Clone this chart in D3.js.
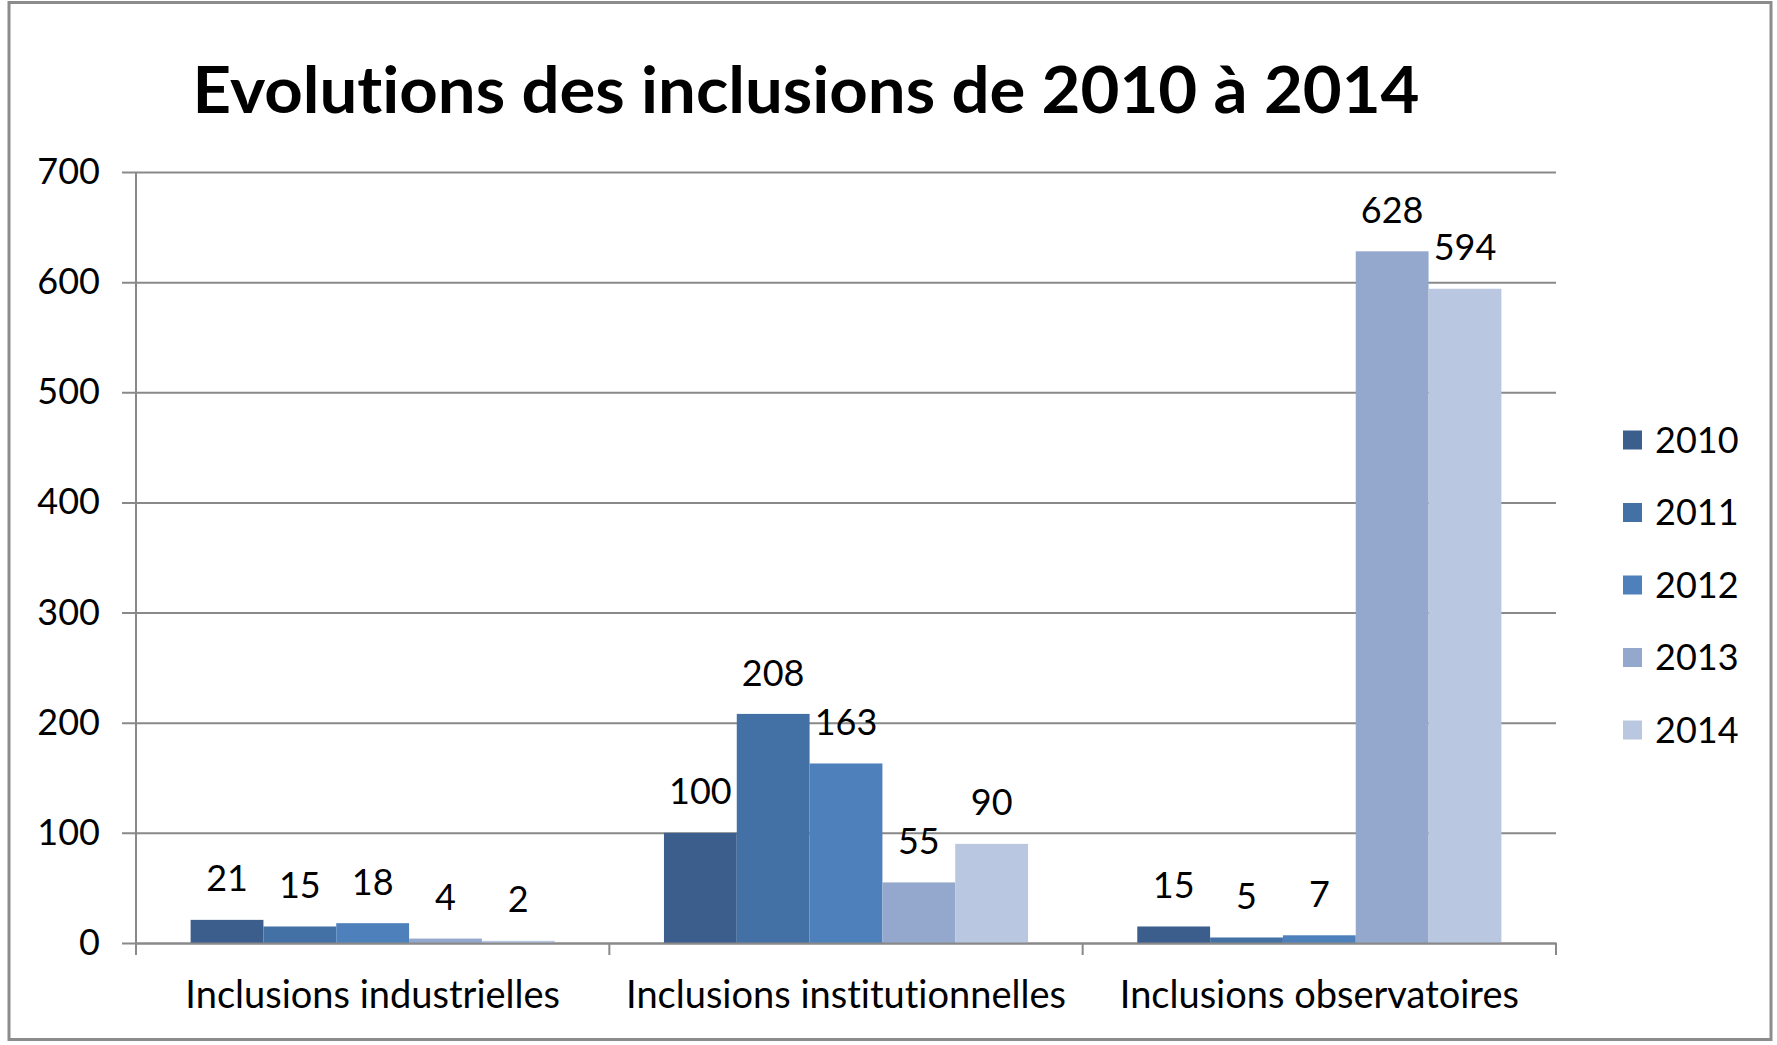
<!DOCTYPE html>
<html><head><meta charset="utf-8">
<script src="https://cdn.jsdelivr.net/npm/d3@7"></script>
<style>
body{margin:0;background:#fff;}
svg{display:block;}
text{font-family:Lato, "Open Sans", sans-serif;fill:#000;font-variant-ligatures:none;font-feature-settings:"liga" 0;}
</style>
</head><body>
<svg id="c" width="1777" height="1045"></svg>
<script>
const title = "Evolutions des inclusions de 2010 à 2014";
const categories = ["Inclusions industrielles", "Inclusions institutionnelles", "Inclusions observatoires"];
const years = ["2010", "2011", "2012", "2013", "2014"];
const values2010 = [21, 100, 15];
const values2011 = [15, 208, 5];
const values2012 = [18, 163, 7];
const values2013 = [4, 55, 628];
const values2014 = [2, 90, 594];
const yTicks = [0, 100, 200, 300, 400, 500, 600, 700];
const colors = ["#3b5e8c", "#4471a5", "#4e80bc", "#94a8ce", "#bac7e0"];

const seriesValues = [values2010, values2011, values2012, values2013, values2014];
const series = years.map((yr, i) => ({year: yr, color: colors[i], values: seriesValues[i]}));

const svg = d3.select("#c");
const plot = {left: 136, right: 1556, top: 172, bottom: 943};
const gridColor = "#898989";

// outer frame
svg.append("rect").attr("x", 9).attr("y", 2.5).attr("width", 1762).attr("height", 1037)
  .attr("fill", "#fff").attr("stroke", "#8c8c8c").attr("stroke-width", 3);

// title
const t = svg.append("text").attr("x", 806).attr("y", 113).attr("text-anchor", "middle")
  .attr("font-weight", "bold").attr("font-size", 65).text(title);
const tw = t.node().getComputedTextLength();
if (Math.abs(tw - 1227) > 4) t.attr("textLength", 1227).attr("lengthAdjust", "spacingAndGlyphs");

const x0 = d3.scaleBand().domain(categories).range([plot.left, plot.right]).paddingInner(0).paddingOuter(0);
const x1 = d3.scaleBand().domain(years).range([0, x0.bandwidth()]).paddingInner(0).paddingOuter(0.75);
const y = d3.scaleLinear().domain([0, 700]).range([plot.bottom, plot.top]);

// y axis with gridlines
const yAxis = d3.axisLeft(y).tickValues(yTicks).tickSizeInner(-(plot.right - 122)).tickSizeOuter(0).tickPadding(22);
const gy = svg.append("g").attr("transform", "translate(122,0)").call(yAxis);
gy.select(".domain").remove();
gy.selectAll(".tick line").attr("stroke", gridColor).attr("stroke-width", 2);
gy.selectAll(".tick text").attr("font-size", 36).attr("font-family", "Lato, sans-serif").attr("fill", "#000");

// bars
const groups = svg.append("g").selectAll("g").data(series).join("g").attr("fill", d => d.color);
groups.selectAll("rect").data(d => d.values.map((v, i) => ({v, cat: categories[i], year: d.year})))
  .join("rect")
  .attr("x", d => x0(d.cat) + x1(d.year))
  .attr("width", x1.bandwidth())
  .attr("y", d => y(d.v))
  .attr("height", d => y(0) - y(d.v));

// data labels
const labels = svg.append("g");
series.forEach(s => {
  labels.selectAll(null).data(s.values.map((v, i) => ({v, cat: categories[i], year: s.year})))
    .join("text")
    .attr("x", d => x0(d.cat) + x1(d.year) + x1.bandwidth() / 2)
    .attr("y", d => y(d.v) - 41)
    .attr("dy", "0.35em")
    .attr("text-anchor", "middle")
    .attr("font-size", 36)
    .text(d => d.v);
});

// vertical axis line
svg.append("line").attr("x1", plot.left).attr("x2", plot.left).attr("y1", plot.top).attr("y2", plot.bottom + 12)
  .attr("stroke", gridColor).attr("stroke-width", 2);

// x axis
const xAxis = d3.axisBottom(x0).tickSize(0).tickPadding(38);
const gx = svg.append("g").attr("transform", `translate(0,${plot.bottom})`).call(xAxis);
gx.select(".domain").attr("stroke", gridColor).attr("stroke-width", 2);
gx.selectAll(".tick text").attr("font-size", 38).attr("font-family", "Lato, sans-serif").attr("fill", "#000");
const bounds = categories.map(c => x0(c)).concat([plot.right]);
svg.append("g").selectAll("line").data(bounds).join("line")
  .attr("x1", d => d).attr("x2", d => d).attr("y1", plot.bottom).attr("y2", plot.bottom + 12)
  .attr("stroke", gridColor).attr("stroke-width", 2);

// legend
const lg = svg.append("g").selectAll("g").data(series).join("g")
  .attr("transform", (d, i) => `translate(1623,${440 + i * 72.5})`);
lg.append("rect").attr("x", 0).attr("y", -9.5).attr("width", 19).attr("height", 19).attr("fill", d => d.color);
lg.append("text").attr("x", 32).attr("y", 0).attr("dy", "0.35em").attr("font-size", 36).text(d => d.year);
</script>
</body></html>
